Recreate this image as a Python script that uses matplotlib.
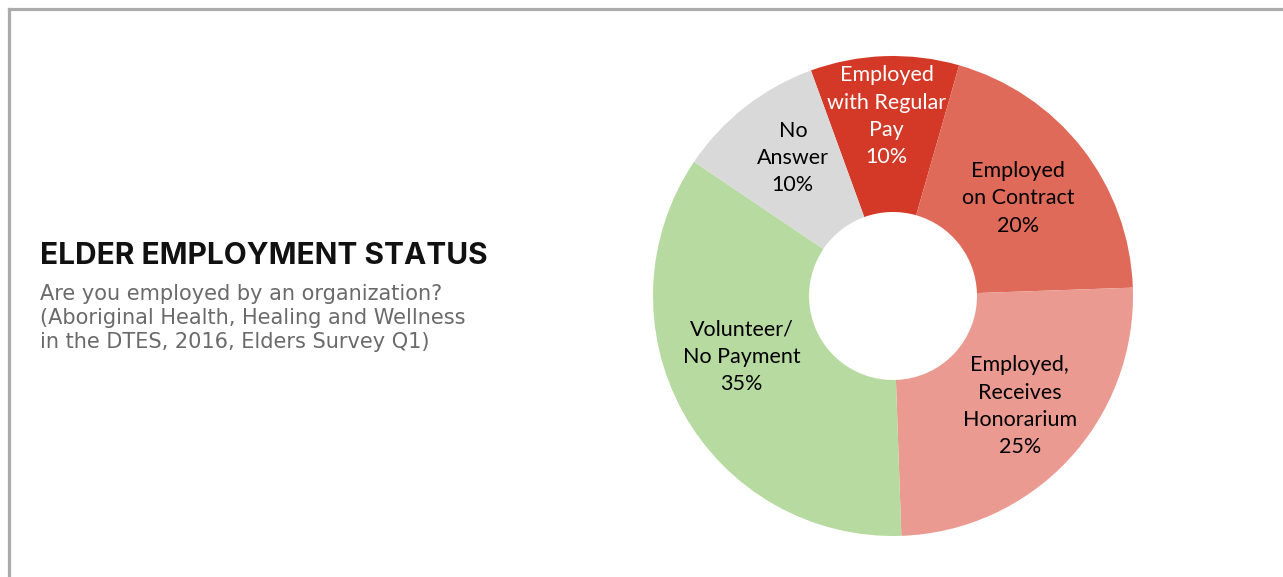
import matplotlib
matplotlib.use("Agg")
from matplotlib import pyplot as plt
import numpy as np

# data
categories = ["Employed\nwith Regular\nPay", "Employed\non Contract", "Employed,\nReceives\nHonorarium",
              "Volunteer/\nNo Payment", "No\nAnswer"]
shares = [10, 20, 25, 35, 10]
colors = ["#D43927", "#E06A5A", "#EA9A90", "#B6DAA0", "#D9D9D9"]
text_colors = ["white", "black", "black", "black", "black"]
# label placement (radius fraction, angle nudge in degrees)
label_pos = [(0.75, 0), (0.66, 0), (0.70, 2), (0.68, -7), (0.71, -2)]

W, H = 1283, 577
fig = plt.figure(figsize=(W / 100, H / 100), dpi=100)
fig.patch.set_facecolor("white")

# frame lines at top and left
bg = fig.add_axes([0, 0, 1, 1])
bg.set_xlim(0, W)
bg.set_ylim(H, 0)
bg.axis("off")
bg.plot([9, 9], [H + 5, 9], color="#ABABAB", lw=2.3, solid_capstyle="projecting")
bg.plot([9, W + 5], [9, 9], color="#ABABAB", lw=2.3, solid_capstyle="projecting")

bg.text(40, 256, "ELDER EMPLOYMENT STATUS", fontsize=21.5, fontweight="bold",
        family="Inter", color="#111111", va="center", ha="left")
bg.text(40, 318, "Are you employed by an organization?\n(Aboriginal Health, Healing and Wellness\nin the DTES, 2016, Elders Survey Q1)",
        fontsize=15, family="DejaVu Sans", color="#6A6A6A", va="center", ha="left",
        linespacing=1.26)

# donut
cx, cy, r = 893, 296, 240
ax = fig.add_axes([(cx - r) / W, (H - cy - r) / H, 2 * r / W, 2 * r / H])
wedges, _ = ax.pie(shares, colors=colors, startangle=110, counterclock=False,
                   radius=1, wedgeprops=dict(width=0.65, linewidth=0))
ax.set_xlim(-1, 1)
ax.set_ylim(-1, 1)
ax.set_aspect("equal")
ax.axis("off")

for w, lab, tc, (d, nudge) in zip(wedges, categories, text_colors, label_pos):
    ang = np.deg2rad((w.theta1 + w.theta2) / 2 + nudge)
    pct = "%d%%" % round(100 * (w.theta2 - w.theta1) / 360)
    ax.text(d * np.cos(ang), d * np.sin(ang), lab + "\n" + pct, ha="center", va="center",
            fontsize=15.5, family="Lato", color=tc, linespacing=1.45)

fig.savefig("out.png", dpi=100)
